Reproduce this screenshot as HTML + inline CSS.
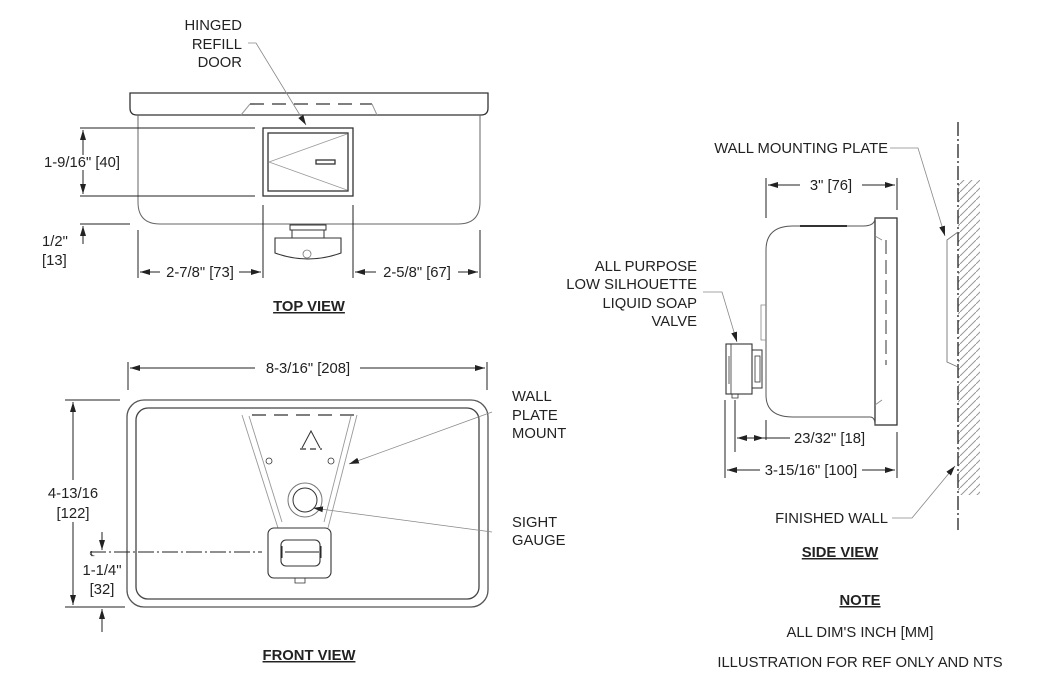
<!DOCTYPE html>
<html><head><meta charset="utf-8"><style>
html,body{margin:0;padding:0;background:#fff}
svg{display:block}
text{font-family:"Liberation Sans",Arial,sans-serif;font-size:14.8px;fill:#222}
.b{font-weight:bold;text-decoration:underline}
</style></head><body>
<svg width="1050" height="686" viewBox="0 0 1050 686" xmlns="http://www.w3.org/2000/svg">
<defs>
<marker id="a" viewBox="0 0 10 6" refX="10" refY="3" markerWidth="10" markerHeight="6" orient="auto-start-reverse" markerUnits="userSpaceOnUse"><path d="M0,0L10,3L0,6z" fill="#222"/></marker>
<pattern id="h" width="8" height="8" patternUnits="userSpaceOnUse"><path d="M0,8L8,0" stroke="#999" stroke-width="1"/></pattern>
</defs>
<g fill="none" stroke="#333" stroke-width="1.3">
<path d="M130,93H488V108Q488,115 481,115H137Q130,115 130,108Z"/>
<path d="M138,115V202Q138,224 160,224H458Q480,224 480,202V115" stroke="#666" stroke-width="1"/>
<path d="M241,115L250,104" stroke="#999" stroke-width="1"/><path d="M250,104H372" stroke-dasharray="14,8"/><path d="M372,104L377,115" stroke="#999" stroke-width="1"/>
<rect x="263" y="128" width="90" height="68"/>
<rect x="268" y="133" width="80" height="58"/>
<path d="M347,134L269,162L347,190" stroke="#999" stroke-width="0.8"/>
<rect x="316" y="160" width="19" height="4"/>
<rect x="290" y="225" width="36" height="5" stroke-width="1"/>
<rect x="292" y="230" width="32" height="8" stroke-width="1"/>
<path d="M275,238H341V253Q308,265 275,253Z" stroke-width="1.1"/>
<circle cx="307" cy="254" r="4" stroke="#777" stroke-width="0.8"/>
<g stroke="#222" stroke-width="1">
<path d="M80,128H255M80,196H255M80,224H130"/>
<path d="M83,155V130" marker-end="url(#a)"/><path d="M83,170V194" marker-end="url(#a)"/>
<path d="M83,244V226" marker-end="url(#a)"/>
<path d="M138,230V278M263,205V278M353,205V278M480,230V278"/>
<path d="M160,272H140" marker-end="url(#a)"/><path d="M239,272H261" marker-end="url(#a)"/>
<path d="M376,272H355" marker-end="url(#a)"/><path d="M458,272H478" marker-end="url(#a)"/>
<path d="M248,43H256L306,125" stroke="#888" stroke-width="0.8" marker-end="url(#a)"/>
</g>
<rect x="127" y="400" width="361" height="207" rx="17" stroke="#555"/>
<rect x="136" y="408" width="343" height="191" rx="12" stroke="#444"/>
<path d="M252,415H355" stroke-dasharray="14,8"/>
<path d="M242,415L278,528M249,416L282,522M357,415L328,528M351,416L324,522" stroke="#999" stroke-width="0.9"/>
<path d="M302,448L311,431L320,448" stroke-width="1"/><path d="M300,449H322" stroke-dasharray="6,4"/>
<circle cx="269" cy="461" r="3" stroke-width="0.8"/><circle cx="331" cy="461" r="3" stroke-width="0.8"/>
<circle cx="305" cy="500" r="17" stroke="#777" stroke-width="1"/><circle cx="305" cy="500" r="12" stroke-width="1"/>
<rect x="268" y="528" width="63" height="50" rx="6" stroke-width="1.1"/>
<rect x="281" y="540" width="39" height="26" rx="5" stroke-width="1.1"/>
<path d="M295,578V583H305V578" stroke-width="0.8"/>
<g stroke="#222" stroke-width="1">
<path d="M90,552H262" stroke-dasharray="16,3,2,3"/>
<path d="M282,546V558M321,546V558M285,552H319" />
<path d="M128,362V390M487,362V390M65,400H120M65,607H125"/>
<path d="M255,368H130" marker-end="url(#a)"/><path d="M360,368H485" marker-end="url(#a)"/>
<path d="M73,480V402" marker-end="url(#a)"/><path d="M73,522V605" marker-end="url(#a)"/>
<path d="M102,532V550" marker-end="url(#a)"/><path d="M102,632V609" marker-end="url(#a)"/>
<path d="M492,412L349,464" stroke="#888" stroke-width="0.8" marker-end="url(#a)"/>
<path d="M492,532L313,508" stroke="#888" stroke-width="0.8" marker-end="url(#a)"/>
</g>
<rect x="958" y="180" width="22" height="315" fill="url(#h)" stroke="none"/>
<path d="M958,122V530" stroke="#222" stroke-dasharray="14,3,2,3"/>
<path d="M958,232L947,240V362L958,367" stroke="#777" stroke-width="0.9"/>
<rect x="875" y="218" width="22" height="207"/>
<path d="M886,240V365" stroke-dasharray="14,6" stroke-width="1"/>
<path d="M875,236L882,240M875,405L882,400" stroke="#888" stroke-width="0.8"/>
<path d="M863,226H793Q766,226 766,250V395Q766,417 793,417H870Q875,417 875,425" stroke="#555" stroke-width="1"/>
<path d="M863,226Q875,226 875,218" stroke="#555" stroke-width="1"/>
<path d="M800,226H847" stroke-width="2"/>
<path d="M766,305H761V340H766" stroke="#888" stroke-width="0.8"/>
<rect x="726" y="344" width="26" height="50" stroke-width="1.1"/>
<path d="M731,344V394M729,356V384" stroke-width="0.8"/>
<rect x="752" y="350" width="10" height="38" stroke-width="1"/>
<rect x="755" y="356" width="5" height="26" stroke-width="0.8"/>
<path d="M732,394V398H738V394" stroke-width="0.8"/>
<g stroke="#222" stroke-width="1">
<path d="M766,178V218M897,178V210M897,432V478M725,400V478M735,400V452" />
<path d="M800,185H768" marker-end="url(#a)"/><path d="M862,185H895" marker-end="url(#a)"/>
<path d="M750,438H737" marker-end="url(#a)"/><path d="M750,438H764" marker-end="url(#a)"/><path d="M764,438H790M766,420V440"/>
<path d="M760,470H727" marker-end="url(#a)"/><path d="M862,470H895" marker-end="url(#a)"/>
<path d="M890,148H918L945,236" stroke="#888" stroke-width="0.8" marker-end="url(#a)"/>
<path d="M703,292H722L737,342" stroke="#888" stroke-width="0.8" marker-end="url(#a)"/>
<path d="M892,518H912L955,466" stroke="#888" stroke-width="0.8" marker-end="url(#a)"/>
</g>
</g>
<text x="242" y="30" text-anchor="end">HINGED</text>
<text x="242" y="49" text-anchor="end">REFILL</text>
<text x="242" y="67" text-anchor="end">DOOR</text>
<text x="44" y="167">1-9/16" [40]</text>
<text x="42" y="246">1/2"</text><text x="42" y="265">[13]</text>
<text x="200" y="277" text-anchor="middle">2-7/8" [73]</text>
<text x="417" y="277" text-anchor="middle">2-5/8" [67]</text>
<text x="309" y="311" text-anchor="middle" class="b">TOP VIEW</text>
<text x="308" y="373" text-anchor="middle">8-3/16" [208]</text>
<text x="512" y="401">WALL</text><text x="512" y="420">PLATE</text><text x="512" y="438">MOUNT</text>
<text x="512" y="527">SIGHT</text><text x="512" y="545">GAUGE</text>
<text x="73" y="498" text-anchor="middle">4-13/16</text><text x="73" y="518" text-anchor="middle">[122]</text>
<text x="102" y="575" text-anchor="middle">1-1/4"</text><text x="102" y="594" text-anchor="middle">[32]</text>
<text x="90" y="556" style="font-size:7px">℄</text>
<text x="309" y="660" text-anchor="middle" class="b">FRONT VIEW</text>
<text x="888" y="153" text-anchor="end">WALL MOUNTING PLATE</text>
<text x="831" y="190" text-anchor="middle">3" [76]</text>
<text x="697" y="271" text-anchor="end">ALL PURPOSE</text>
<text x="697" y="289" text-anchor="end">LOW SILHOUETTE</text>
<text x="697" y="308" text-anchor="end">LIQUID SOAP</text>
<text x="697" y="326" text-anchor="end">VALVE</text>
<text x="794" y="443">23/32" [18]</text>
<text x="811" y="475" text-anchor="middle">3-15/16" [100]</text>
<text x="888" y="523" text-anchor="end">FINISHED WALL</text>
<text x="840" y="557" text-anchor="middle" class="b">SIDE VIEW</text>
<text x="860" y="605" text-anchor="middle" class="b">NOTE</text>
<text x="860" y="637" text-anchor="middle">ALL DIM'S INCH [MM]</text>
<text x="860" y="667" text-anchor="middle">ILLUSTRATION FOR REF ONLY AND NTS</text>
</svg>
</body></html>
